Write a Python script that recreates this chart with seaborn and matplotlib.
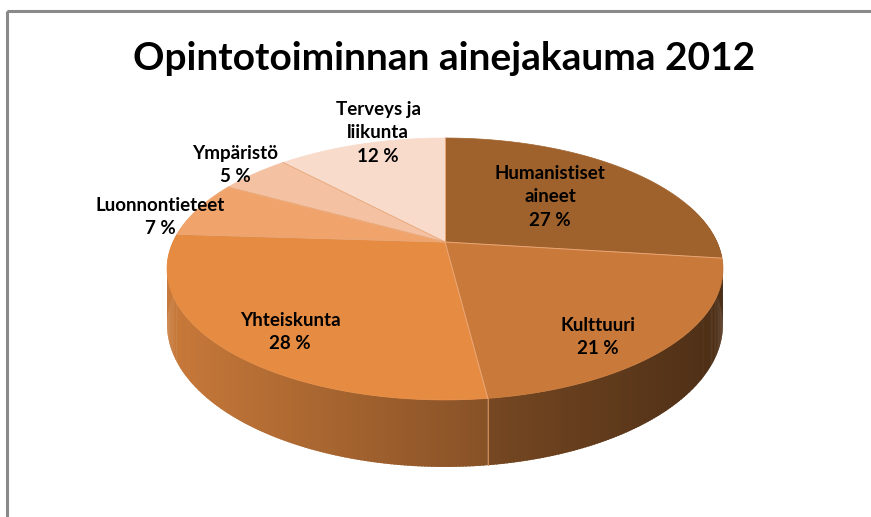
import numpy as np
import matplotlib
matplotlib.use("Agg")
import matplotlib.pyplot as plt
from matplotlib.patches import Polygon, Rectangle
import seaborn as sns

title = "Opintotoiminnan ainejakauma 2012"
categories = ["Humanistiset\naineet", "Kulttuuri", "Yhteiskunta",
              "Luonnontieteet", "Ympäristö", "Terveys ja\nliikunta"]
shares = [27, 21, 28, 7, 5, 12]
slice_colors = ["#A0622C", "#C97A3A", "#E68B42", "#F0A46C", "#F4C1A2", "#F9DBCC"]

# where the labels sit (pixel centre of each text block)
label_xy = [(550, 197), (598, 337), (290, 332), (160, 217), (235, 165), (378, 133)]

W, H = 871, 517
cx, cy = 445, 242          # pie centre on screen
rx, ry = 272, 125.4        # horizontal / vertical radius
persp = 0.206              # perspective strength
depth = 53.2               # slab thickness


def project(u, v, drop=0.0):
    d = 1 + persp * v
    return cx + rx * u / d, cy - (ry * v - drop) / d


def shade(color, x):
    # side walls get darker towards the right
    f = np.clip(0.87 - (x - 170) * 0.00089, 0.3, 1)
    r, g, b = matplotlib.colors.to_rgb(color)
    return (r * f, g * f, b * f)


sns.set_theme(style="white")
plt.rcParams["font.family"] = ["Lato", "DejaVu Sans"]
palette = sns.color_palette(slice_colors)

fig = plt.figure(figsize=(W / 100, H / 100), dpi=100)
ax = fig.add_axes([0, 0, 1, 1])
ax.set_xlim(0, W)
ax.set_ylim(H, 0)
ax.axis("off")

fracs = np.array(shares) / np.sum(shares)
ends = np.cumsum(fracs) * 2 * np.pi
starts = ends - fracs * 2 * np.pi

# side walls, only the front half is ever visible
quads = []
step = 0.01
for i, (a0, a1) in enumerate(zip(starts, ends)):
    n = max(int((a1 - a0) / step), 2)
    t = np.linspace(a0, a1, n + 1)
    for t1, t2 in zip(t[:-1], t[1:]):
        if min(np.cos(t1), np.cos(t2)) > 0.3:
            continue
        t2x = min(t2 + step * 0.6, a1)   # small overlap hides seams
        u1, v1 = np.sin(t1), np.cos(t1)
        u2, v2 = np.sin(t2x), np.cos(t2x)
        pts = [project(u1, v1), project(u2, v2),
               project(u2, v2, depth), project(u1, v1, depth)]
        quads.append(((v1 + v2) / 2, pts, i))
quads.sort(key=lambda q: -q[0])
for _, pts, i in quads:
    xm = np.mean([p[0] for p in pts])
    c = shade(palette[i], xm)
    ax.add_patch(Polygon(pts, closed=True, facecolor=c, edgecolor="none",
                         zorder=1))

# seams on the front wall
for a in ends:
    u, v = np.sin(a), np.cos(a)
    if v < -0.5:
        x0, y0 = project(u, v)
        x1, y1 = project(u, v, depth)
        ax.plot([x0, x1], [y0, y1], color="#C98A55", lw=0.8, zorder=2)

# top surface
for i, (a0, a1) in enumerate(zip(starts, ends)):
    t = np.linspace(a0, a1, 200)
    pts = [project(0, 0)] + [project(np.sin(a), np.cos(a)) for a in t]
    ax.add_patch(Polygon(pts, closed=True, facecolor=palette[i],
                         edgecolor=palette[i], linewidth=0.5, zorder=3))
for a in starts:
    x1, y1 = project(np.sin(a), np.cos(a))
    ax.plot([cx, x1], [cy, y1], color="#E9A777", lw=0.7, zorder=4)

for name, pct, (x, y) in zip(categories, shares, label_xy):
    ax.text(x, y, f"{name}\n{pct} %", ha="center", va="center",
            multialignment="center", fontsize=13.5, fontweight="bold",
            linespacing=1.45, color="black", zorder=5)

ax.text(444, 58, title, ha="center", va="center", fontsize=28,
        fontweight="bold", color="black")

# chart frame (cut off at right and bottom)
ax.add_patch(Rectangle((6.5, 10.5), 900, 600, fill=False,
                       edgecolor="#898989", linewidth=2.2, zorder=6))

fig.savefig("out.png", dpi=100, facecolor="white")
